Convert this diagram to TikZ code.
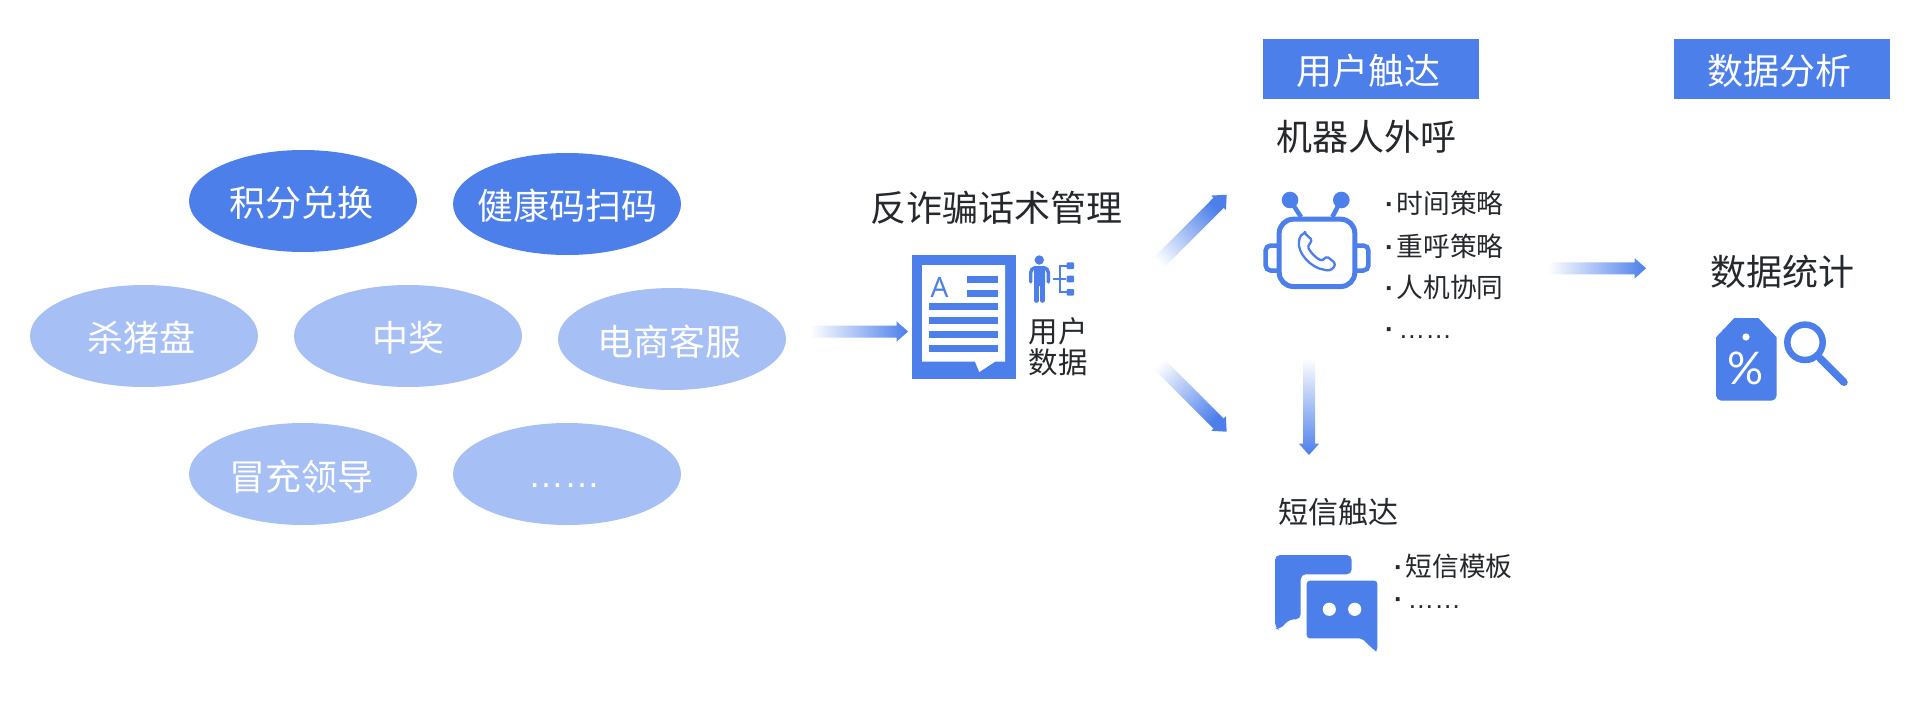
\documentclass[tikz,border=0pt]{standalone}
\usepackage{fontspec}
\setmainfont{Noto Sans CJK SC}
\newfontfamily\latf{Liberation Sans}
\newfontfamily\nsf{Noto Sans}
\newfontfamily\pctf{Lato}
\usetikzlibrary{shapes.geometric,calc}
\definecolor{acc}{HTML}{4C7FEA}
\definecolor{lite}{HTML}{A6BFF5}
\definecolor{ink}{HTML}{25282C}
\newcommand\fs[1]{\fontsize{#1}{#1}\selectfont}
% text centred on the node centre, moved by #1 (twice the sideways shift) and lowered by 13.7pt+#2
\newcommand\otext[3]{\makebox[0pt][c]{\kern#1pt\raisebox{\dimexpr-13.7pt-#2pt\relax}[0pt][0pt]{#3}}}
\newcommand\gradarrow[4][6pt]{%
  \coordinate (hb) at ($(#3)!11.5pt!(#2)$);
  \shade[top color=acc,bottom color=white,shading angle=#4]
    ($(#2)!#1!90:(#3)$) -- ($(hb)!#1!90:(#3)$) -- ($(hb)!10.3pt!90:(#3)$) -- (#3)
    -- ($(hb)!10.3pt!-90:(#3)$) -- ($(hb)!#1!-90:(#3)$) -- ($(#2)!#1!-90:(#3)$) -- cycle;}
\tikzset{
  oval/.style={ellipse,minimum width=228pt,minimum height=102pt,inner sep=0pt,text=white,font=\fs{36}},
  dark/.style={oval,fill=acc},
  light/.style={oval,fill=lite},
  header/.style={fill=acc,minimum width=216pt,minimum height=60pt,inner sep=0pt,text=white,font=\fs{36}},
  title/.style={text=ink,inner sep=0pt,font=\fs{36}},
  sub/.style={text=ink,inner sep=0pt,font=\fs{29.5}},
  item/.style={text=ink,inner sep=0pt,anchor=west,font=\fs{26.7}},
  itemb/.style={text=ink,inner sep=0pt,anchor=base west,font=\fs{26.7}},
  bar/.style={fill=acc},
}
\newcommand\bul{{\latf\bfseries ·}}
\begin{document}
\begin{tikzpicture}[x=1pt,y=-1pt]
\useasboundingbox (0,0) rectangle (1920,720);
\fill[white] (0,0) rectangle (1920,720);
% ovals
\node[dark] (o1) at (303,201) {\otext{-4}{2}{积分兑换}};
\node[dark] (o2) at (567,204) {\otext{0}{2}{健康码扫码}};
\node[light] (o3) at (144,336) {\otext{-6}{2}{杀猪盘}};
\node[light] (o4) at (408,336) {\otext{1}{2}{中奖}};
\node[light] (o5) at (672,339) {\otext{-5}{3}{电商客服}};
\node[light] (o6) at (303,474) {\otext{-4}{3}{冒充领导}};
\node[light] (o7) at (567,474) {};
\node[text=white,inner sep=0pt,anchor=base,font=\fs{36}\latf] (o7t) at (564,487) {……};
% title and document
\node[title] (t1) at (996,208) {反诈骗话术管理};
\fill[acc] (912,255) rectangle (1016,379);
\fill[white] (922,265) -- (1005,265) -- (1005,361.7) -- (995,361.7) -- (979.3,372) -- (975,361.7) -- (922,361.7) -- cycle;
\fill[bar] (967,275.7) rectangle (998,282.7);
\fill[bar] (967,289.7) rectangle (998,296.7);
\fill[bar] (929,303) rectangle (998,310);
\fill[bar] (929,317) rectangle (998,324);
\fill[bar] (929,331) rectangle (998,338);
\fill[bar] (929,344.7) rectangle (998,351.7);
\node[text=acc,inner sep=0pt,anchor=base,font=\fs{28}\nsf\bfseries] (doca) at (939.5,297) {A};
% person
\fill[acc] (1039.3,260) circle (4.7);
\fill[acc,rounded corners=2.5] (1034,266) rectangle (1045,286);
\draw[acc,line width=3.4pt,line cap=round,rounded corners=4] (1030.7,282) -- (1030.7,268.5) -- (1036,267.5);
\draw[acc,line width=3.4pt,line cap=round,rounded corners=4] (1048.3,282) -- (1048.3,268.5) -- (1043,267.5);
\draw[acc,line width=4.4pt,line cap=round] (1036.4,280) -- (1036.4,300.6) (1042.6,280) -- (1042.6,300.6);
\draw[acc,line width=2pt] (1053.3,279) -- (1066,279) (1067,265.7) -- (1060,265.7) -- (1060,292.3) -- (1067,292.3);
\fill[acc,rounded corners=1] (1066.7,262.3) rectangle (1074,269);
\fill[acc,rounded corners=1] (1066.7,275.7) rectangle (1074,282.3);
\fill[acc,rounded corners=1] (1066.7,289) rectangle (1074,295.7);
\node[sub] (ud1) at (1058,331) {用户};
\node[sub] (ud2) at (1058,362) {数据};
% headers
\node[header] (h1) at (1371,69) {\otext{-5}{2}{用户触达}};
\node[header] (h2) at (1782,69) {\otext{-6}{2}{数据分析}};
\node[title] (t2) at (1366,137) {机器人外呼};
% robot
\draw[acc,line width=5pt,rounded corners=14] (1279.2,219.2) rectangle (1354.8,286.5);
\draw[acc,line width=4.5pt,rounded corners=5] (1277,245.5) -- (1265.6,245.5) -- (1265.6,270.5) -- (1277,270.5);
\draw[acc,line width=4.5pt,rounded corners=5] (1357,245.5) -- (1368.4,245.5) -- (1368.4,270.5) -- (1357,270.5);
\draw[acc,line width=4.5pt] (1290,200) -- (1301,217) (1341.3,200) -- (1332.3,217);
\fill[acc] (1290,200) circle (8.3) (1341.3,200) circle (8.3);
\draw[acc,line width=2.3pt,line join=round,rounded corners=1.5] (1305,233.5) -- (1312,240) -- (1307.7,247) .. controls (1311,253) and (1316,258) .. (1321.7,260.7) -- (1327,256.5) -- (1335,263) .. controls (1334.5,268) and (1330,271) .. (1326,270) .. controls (1310,268) and (1297,252) .. (1299.3,240) .. controls (1300,236) and (1302,234) .. cycle;
% lists
\node[item] (l1) at (1385,203.3) {\bul\kern2.5pt 时间策略};
\node[item] (l2) at (1385,246) {\bul\kern2.5pt 重呼策略};
\node[item] (l3) at (1385,287.3) {\bul\kern2.5pt 人机协同};
\node[itemb] (l4) at (1385,338) {\bul\kern4.5pt{\latf ……}};
\node[sub,font=\fs{30}] (t3) at (1338,512) {短信触达};
\node[item] (m1) at (1394,566) {\bul\kern2.5pt 短信模板};
\node[itemb] (m2) at (1394,608) {\bul\kern4.5pt{\latf ……}};
% chat
\fill[acc,rounded corners=5] (1275,555) -- (1351.7,555) -- (1351.7,574.3) -- (1300.7,574.3) -- (1300.7,619.3) -- (1289.3,619.3) -- (1279.3,630) -- (1275,628) -- cycle;
\fill[acc,rounded corners=3] (1306.7,580.7) -- (1377.3,580.7) -- (1377.3,651) -- (1375,651) -- (1361.7,638.3) -- (1306.7,638.3) -- cycle;
\fill[white] (1329.3,609.3) circle (6.6) (1354.7,609.3) circle (6.6);
% stats
\node[title] (t4) at (1782,272) {数据统计};
\fill[acc,rounded corners=0.5] (1734.3,318) -- (1758.3,318) -- (1776.7,337.3) -- (1776.7,395) arc[start angle=0,end angle=90,radius=5.7] -- (1721.7,400.7) arc[start angle=90,end angle=180,radius=5.7] -- (1716,337.3) -- cycle;
\fill[white] (1746,337) circle (3.6);
\node[text=white,inner sep=0pt,font=\fs{45}\pctf] (pct) at (1746,368.3) {\%};
\draw[acc,line width=6.5pt] (1805,342.3) circle (17.7);
\draw[acc,line width=7.5pt,line cap=round] (1820,358.3) -- (1844,382.3);
% arrows
\coordinate (a1s) at (810,331.5); \coordinate (a1e) at (908,331.5);
\coordinate (a2s) at (1152,269.5); \coordinate (a2e) at (1226.7,194.7);
\coordinate (a3s) at (1152,357); \coordinate (a3e) at (1226.7,431.7);
\coordinate (a4s) at (1548,268.3); \coordinate (a4e) at (1646,268.3);
\coordinate (a5s) at (1309,358); \coordinate (a5e) at (1309,455);
\gradarrow{a1s}{a1e}{-90}
\gradarrow[7.2pt]{a2s}{a2e}{-45}
\gradarrow[7.2pt]{a3s}{a3e}{-135}
\gradarrow{a4s}{a4e}{-90}
\gradarrow{a5s}{a5e}{180}
\end{tikzpicture}
\end{document}
